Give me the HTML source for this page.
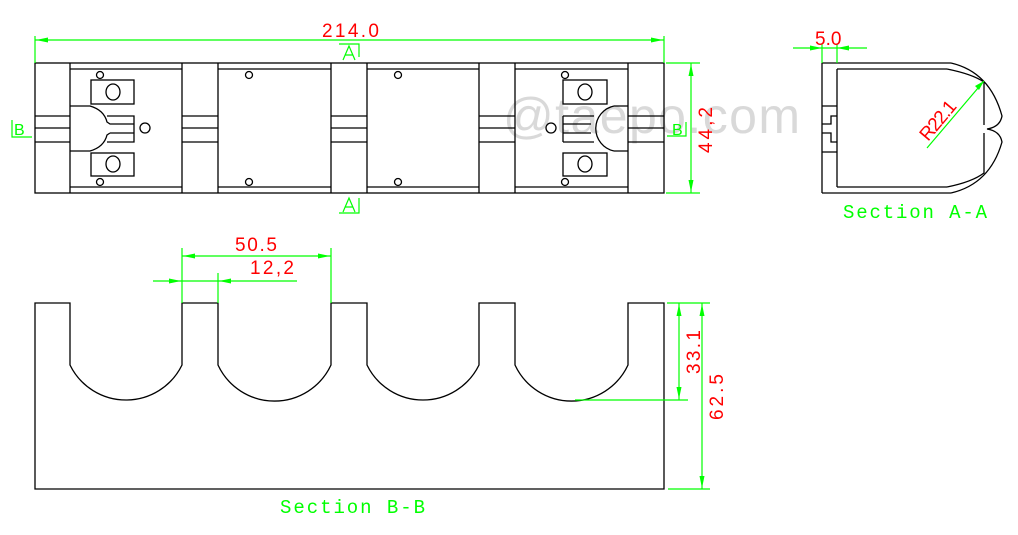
<!DOCTYPE html>
<html><head><meta charset="utf-8"><style>
html,body{margin:0;padding:0;background:#fff;}
svg{display:block;}
.k{stroke:#000;stroke-width:1.3;fill:none;}
.g{stroke:#0f0;stroke-width:1.2;fill:none;}
.ga{fill:#0f0;stroke:none;}
.r{fill:#f00;font-family:"Liberation Sans",sans-serif;font-size:19px;}
.gt{fill:#0f0;font-family:"Liberation Mono",monospace;font-size:19px;}
</style></head><body>
<svg width="1018" height="535" viewBox="0 0 1018 535" xmlns="http://www.w3.org/2000/svg">
<!-- watermark -->
<text x="503" y="133" font-family="Liberation Sans,sans-serif" font-size="50" fill="#aaa" fill-opacity="0.45" textLength="297">@taepo.com</text>

<!-- TOP VIEW -->
<rect class="k" x="35" y="63" width="629" height="130"/>
<g class="k">
<line x1="70" y1="63" x2="70" y2="193"/><line x1="182" y1="63" x2="182" y2="193"/>
<line x1="218" y1="63" x2="218" y2="193"/><line x1="331" y1="63" x2="331" y2="193"/>
<line x1="367" y1="63" x2="367" y2="193"/><line x1="479" y1="63" x2="479" y2="193"/>
<line x1="515" y1="63" x2="515" y2="193"/><line x1="628" y1="63" x2="628" y2="193"/>
<path d="M70 69H182M218 69H331M367 69H479M515 69H628M70 187H182M218 187H331M367 187H479M515 187H628"/>
<path d="M35 116H70M35 128H70M35 142H70 M182 116H218M182 128H218M182 142H218 M331 116H367M331 128H367M331 142H367 M479 116H515M479 128H515M479 142H515 M628 116H664M628 128H664M628 142H664"/>
<path d="M70 106H90Q104 110 107 122L110 124H134M107 116H134V142H107M110 133H134M70 151H90Q104 147 107 135L110 133"/>
<rect x="91" y="80" width="43" height="24"/><rect x="91" y="153" width="43" height="23"/>
<ellipse cx="113" cy="92" rx="7" ry="8"/><ellipse cx="113" cy="164" rx="7" ry="8"/>
<circle cx="145" cy="128" r="5"/>
<circle cx="100" cy="75" r="3.5"/><circle cx="100" cy="182" r="3.5"/>
<circle cx="249" cy="75" r="3.5"/><circle cx="249" cy="182" r="3.5"/>
<circle cx="398" cy="75" r="3.5"/><circle cx="398" cy="182" r="3.5"/>
<rect x="563" y="80" width="44" height="24"/><rect x="563" y="153" width="44" height="23"/>
<ellipse cx="585" cy="92" rx="7" ry="8"/><ellipse cx="585" cy="164" rx="7" ry="8"/>
<circle cx="551" cy="128" r="5"/>
<circle cx="565" cy="75" r="3.5"/><circle cx="565" cy="182" r="3.5"/>
<path d="M563 116H594M563 124H591M563 133H591M563 142H594M563 116V142"/>
<path d="M614 106A23 23 0 0 0 614 151M614 106H628M614 151H628"/>
</g>
<g class="g"><path d="M35 36V63M664 36V63M35 40H664"/></g>
<polygon class="ga" points="36,40 48,37.5 48,42.5"/><polygon class="ga" points="663,40 651,37.5 651,42.5"/>
<text class="r" x="322" y="37" textLength="57">214.0</text>
<g class="g"><path d="M339 44H359V57M339 213H359V198"/><path d="M343 60L349 46L355 60M345 55H353M343 212L349 198L355 212M345 207H353"/></g>
<g class="g"><path d="M12 120V137H32M686 122V136H667"/></g>
<text x="14" y="135" font-family="Liberation Sans,sans-serif" font-size="16" fill="#0f0">B</text>
<text x="672" y="135" font-family="Liberation Sans,sans-serif" font-size="16" fill="#0f0">B</text>
<g class="g"><path d="M666 63H700M666 193H700M691 63V193"/></g>
<polygon class="ga" points="691,64 688.5,76 693.5,76"/><polygon class="ga" points="691,192 688.5,180 693.5,180"/>
<text class="r" transform="translate(712,153) rotate(-90)" textLength="46">44,2</text>

<!-- SECTION A-A -->
<g class="k">
<path d="M822 63V193M837 69V187M822 63H951M837 69H947M822 193H951M837 187H947"/>
<path d="M822 106H837M822 152H837M837 116H831V124H822M822 133H831V142H837"/>
<path d="M951 63Q990 72 1002 116Q1000 127 987 129Q1000 131 1002 142Q990 184 951 193"/>
<path d="M947 69Q972 74 984 82V125M984 133V173Q972 182 947 187"/>
</g>
<g class="g"><path d="M793 48H867M822 44V63M837 44V63M927 148L984 81"/></g>
<polygon class="ga" points="822,48 810,45.5 810,50.5"/><polygon class="ga" points="837,48 849,45.5 849,50.5"/>
<polygon class="ga" points="984,81 975,86 979,90"/>
<text class="r" x="815" y="45">5.0</text>
<text class="r" transform="translate(928,142) rotate(-50)" textLength="46">R22.1</text>
<text class="gt" x="843" y="218" textLength="144">Section A-A</text>

<!-- SECTION B-B -->
<path class="k" d="M35 489V303H70V365A62.3 62.3 0 0 0 182 365V303H218V365A62.3 62.3 0 0 0 331 365V303H367V365A62.3 62.3 0 0 0 479 365V303H515V365A62.3 62.3 0 0 0 628 365V303H664V489Z"/>
<g class="g">
<path d="M182 248V303M331 248V303M182 256H331M218 273V303M153 281H297"/>
<path d="M667 303H710M575 400H688M668 489H710M679 303V400M702 303V489"/>
</g>
<polygon class="ga" points="183,256 195,253.5 195,258.5"/><polygon class="ga" points="330,256 318,253.5 318,258.5"/>
<polygon class="ga" points="181,281 169,278.5 169,283.5"/><polygon class="ga" points="219,281 231,278.5 231,283.5"/>
<polygon class="ga" points="679,304 676.5,316 681.5,316"/><polygon class="ga" points="679,399 676.5,387 681.5,387"/>
<polygon class="ga" points="702,304 699.5,316 704.5,316"/><polygon class="ga" points="702,488 699.5,476 704.5,476"/>
<text class="r" x="235" y="251" textLength="42">50.5</text>
<text class="r" x="250" y="274" textLength="44">12,2</text>
<text class="r" transform="translate(700,374) rotate(-90)" textLength="44">33.1</text>
<text class="r" transform="translate(723,420) rotate(-90)" textLength="46">62.5</text>
<text class="gt" x="280" y="513" textLength="145">Section B-B</text>
</svg>
</body></html>
